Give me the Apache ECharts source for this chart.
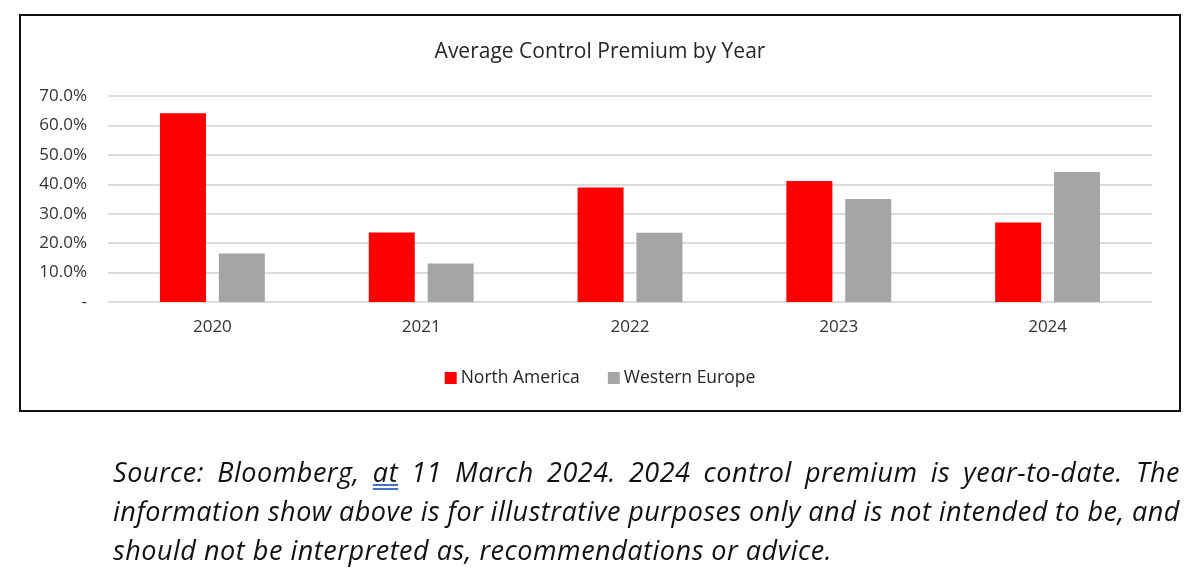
<!DOCTYPE html>
<html>
<head>
<meta charset="utf-8">
<script src="https://cdn.jsdelivr.net/npm/echarts@6/dist/echarts.min.js"></script>
<style>
  html, body { margin: 0; padding: 0; background: #fff; }
  #wrap { position: relative; width: 1200px; height: 572px; overflow: hidden; }
  #chart { position: absolute; left: 0; top: 0; width: 1200px; height: 572px; }
  #note {
    position: absolute; left: 113px; top: 452px; width: 1068px;
    font-family: "Open Sans", sans-serif; font-style: italic; font-size: 27px;
    line-height: 39px; color: #111;
  }
  #note .ln { white-space: nowrap; }
  #note .sp { text-decoration: underline double #4472c4; }
</style>
</head>
<body>
<div id="wrap">
  <div id="chart"></div>
  <div id="note"></div>
</div>
<script>
const titleText = 'Average Control Premium by Year';
const years = ['2020', '2021', '2022', '2023', '2024'];
const northAmerica = [64.1, 23.6, 38.9, 41.1, 27.0];
const westernEurope = [16.5, 13.1, 23.5, 35.0, 44.2];
const seriesNames = ['North America', 'Western Europe'];
const noteLines = [
  'Source: Bloomberg, <span class="sp">at</span> 11 March 2024. 2024 control premium is year-to-date. The',
  'information show above is for illustrative purposes only and is not intended to be, and',
  'should not be interpreted as, recommendations or advice.'
];

// caption: first lines justified to full width, last line natural
const note = document.getElementById('note');
noteLines.forEach(t => {
  const d = document.createElement('div');
  d.className = 'ln';
  const s = document.createElement('span');
  s.innerHTML = t;
  d.appendChild(s);
  note.appendChild(d);
});
const spans = note.querySelectorAll('.ln > span');
const last = spans[spans.length - 1];
const nChars = last.textContent.length;
const ls = (719 - last.getBoundingClientRect().width) / nChars;
note.style.letterSpacing = ls + 'px';
for (let i = 0; i < spans.length - 1; i++) {
  const sp = spans[i];
  const w = sp.getBoundingClientRect().width;
  const gaps = (sp.textContent.match(/ /g) || []).length;
  sp.style.wordSpacing = ((1067 - w) / gaps) + 'px';
}

const chart = echarts.init(document.getElementById('chart'), null, { renderer: 'canvas' });
const font = '"Open Sans", sans-serif';
chart.setOption({
  animation: false,
  backgroundColor: '#fff',
  title: {
    text: titleText, left: 'center', top: 37,
    textStyle: { fontFamily: font, fontSize: 21, fontWeight: 'normal', color: '#262626' }
  },
  legend: {
    data: seriesNames, left: 'center', top: 364,
    itemWidth: 12, itemHeight: 12, itemGap: 28,
    icon: 'rect',
    textStyle: { fontFamily: font, fontSize: 17.5, color: '#262626', padding: [0, 0, 0, -1] }
  },
  grid: { left: 108, right: 48, top: 96, bottom: 270, containLabel: false },
  xAxis: {
    type: 'category', data: years,
    axisLine: { show: false }, axisTick: { show: false },
    axisLabel: { fontFamily: font, fontSize: 17, color: '#333', margin: 17 }
  },
  yAxis: {
    type: 'value', min: 0, max: 70, interval: 10,
    axisLine: { show: false }, axisTick: { show: false },
    splitLine: { lineStyle: { color: '#dcdcdc', width: 2 } },
    axisLabel: {
      fontFamily: font, fontSize: 17, color: '#333', margin: 21,
      formatter: v => v === 0 ? '-' : v.toFixed(1) + '%'
    }
  },
  series: [
    { name: seriesNames[0], type: 'bar', data: northAmerica, barWidth: 46, barGap: '28%',
      itemStyle: { color: '#ff0000' } },
    { name: seriesNames[1], type: 'bar', data: westernEurope, barWidth: 46,
      itemStyle: { color: '#a5a5a5' } }
  ],
  graphic: [
    { type: 'rect', shape: { x: 20, y: 15, width: 1160, height: 396 },
      style: { fill: 'none', stroke: '#111', lineWidth: 2 }, z: 10 }
  ]
});
</script>
</body>
</html>
